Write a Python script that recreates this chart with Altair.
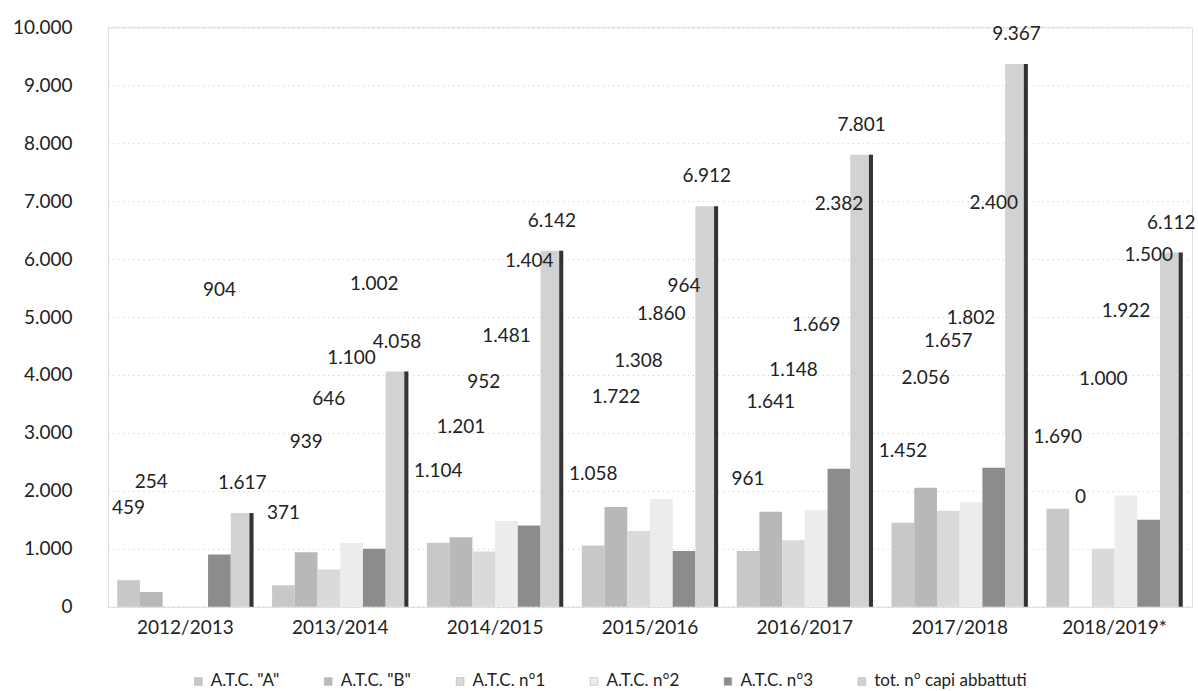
import altair as alt
import pandas as pd

seasons = ["2012/2013", "2013/2014", "2014/2015", "2015/2016", "2016/2017", "2017/2018", "2018/2019*"]
series = ['A.T.C. "A"', 'A.T.C. "B"', "A.T.C. n°1", "A.T.C. n°2", "A.T.C. n°3", "tot. n° capi abbattuti"]
atc_a = [459, 371, 1104, 1058, 961, 1452, 1690]
atc_b = [254, 939, 1201, 1722, 1641, 2056, 0]
atc_1 = [None, 646, 952, 1308, 1148, 1657, 1000]
atc_2 = [None, 1100, 1481, 1860, 1669, 1802, 1922]
atc_3 = [904, 1002, 1404, 964, 2382, 2400, 1500]
tot = [1617, 4058, 6142, 6912, 7801, 9367, 6112]
colors = ["#c8c8c8", "#b8b8b8", "#dadada", "#ececec", "#8c8c8c", "#d2d2d2"]
label_dy = [-72, -110, -170, -185, -265, -30]

rows = []
for s, vals in zip(series, [atc_a, atc_b, atc_1, atc_2, atc_3, tot]):
    for season, v in zip(seasons, vals):
        if v is not None:
            rows.append({"season": season, "serie": s, "value": v})
df = pd.DataFrame(rows)

FONT = "Lato"
TXT = "#222222"
W = 1085

xscale = alt.Scale(paddingInner=0.12, paddingOuter=0.06)
x = alt.X("season:N", sort=seasons, title=None, scale=xscale,
          axis=alt.Axis(labelAngle=0, ticks=False, domain=False, labelFontSize=19,
                        labelFont=FONT, labelColor=TXT, labelPadding=12))
xoff = alt.XOffset("serie:N", sort=series, scale=alt.Scale(domain=series, paddingInner=0.0))
yenc = alt.Y("value:Q", title=None,
             scale=alt.Scale(domain=[0, 10000], nice=False),
             axis=alt.Axis(values=list(range(0, 10001, 1000)), format=",d",
                           domain=False, ticks=False, labelFontSize=19, labelFont=FONT,
                           labelColor=TXT, labelPadding=36,
                           gridColor="#c4c4c4", gridDash=[1, 4], gridWidth=1))

bars = alt.Chart(df).mark_bar().encode(
    x=x,
    xOffset=xoff,
    y=yenc,
    color=alt.Color("serie:N", sort=series,
                    scale=alt.Scale(domain=series, range=colors),
                    legend=alt.Legend(title=None, orient="none", direction="horizontal",
                                      legendX=82, legendY=646,
                                      symbolType="square", symbolSize=60,
                                      symbolStrokeColor="#aaaaaa", symbolStrokeWidth=0.5,
                                      labelFont=FONT, labelFontSize=17, labelColor=TXT,
                                      columnPadding=40)),
)

# dark right-hand side face of the total bars (3D look of the original)
step = W / 7.0
sub = step * (1 - 0.12) / 6.0
edge_off = 2.5 * sub + sub / 2.0 - 2
edge = alt.Chart(df).transform_filter(alt.datum.serie == series[-1]).mark_rule(
    color="#333333", strokeWidth=4, xOffset=edge_off
).encode(
    x=alt.X("season:N", sort=seasons),
    y=alt.Y("value:Q"),
    y2=alt.datum(0),
)

layers = [bars, edge]
for s, dy in zip(series, label_dy):
    layers.append(
        alt.Chart(df).transform_filter(alt.datum.serie == s).mark_text(
            dy=dy, fontSize=19, font=FONT, color=TXT, baseline="middle"
        ).encode(
            x=alt.X("season:N", sort=seasons),
            xOffset=alt.XOffset("serie:N", sort=series, scale=alt.Scale(domain=series)),
            y=alt.Y("value:Q"),
            text=alt.Text("value:Q", format=",d"),
        )
    )

chart = alt.layer(*layers).properties(
    width=W, height=580,
    padding={"left": 12, "top": 18, "right": 2, "bottom": 0},
    background="white",
).configure_view(stroke=None).configure(
    locale={"number": {"decimal": ",", "thousands": ".", "grouping": [3], "currency": ["", " €"]}}
)

chart.save("out.html", embed_options={"renderer": "svg", "actions": False})
